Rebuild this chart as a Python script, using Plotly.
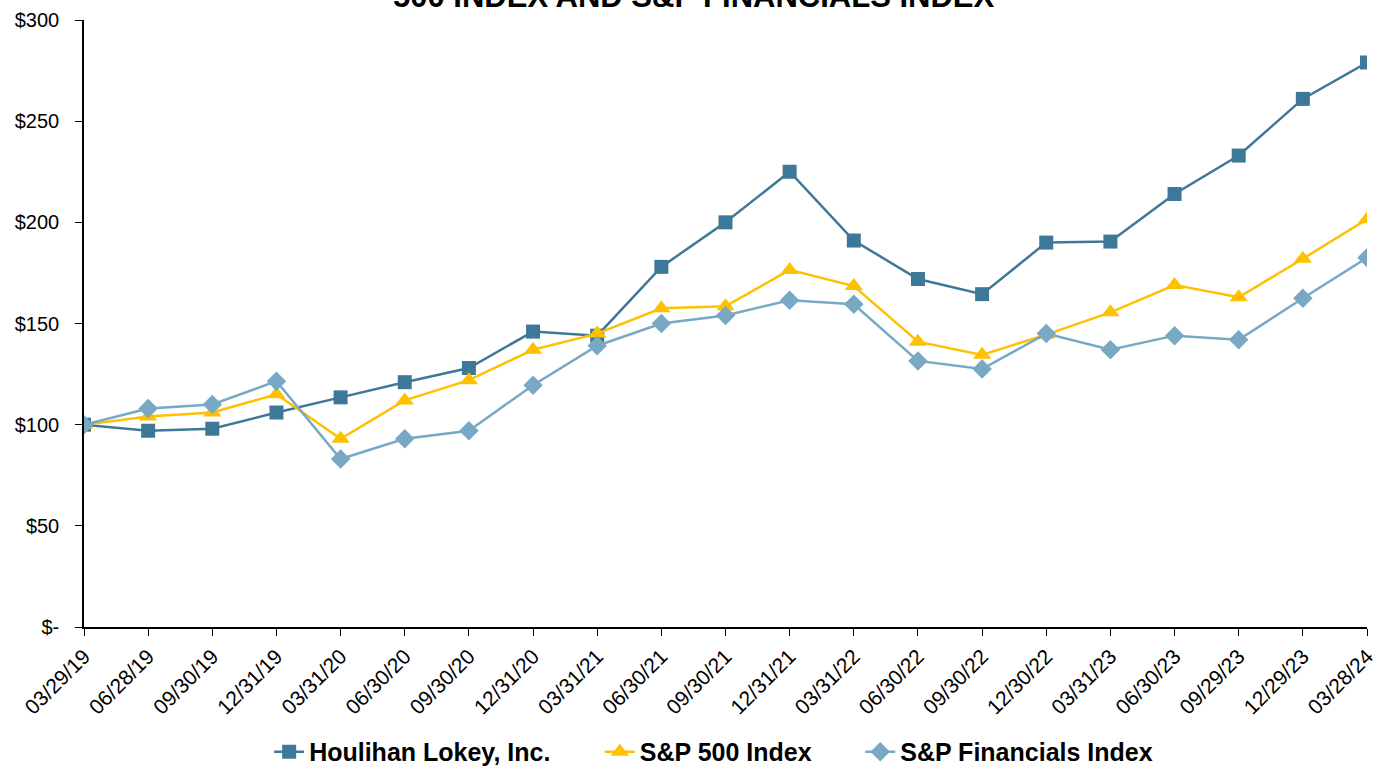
import plotly.graph_objects as go

dates = ["03/29/19", "06/28/19", "09/30/19", "12/31/19", "03/31/20", "06/30/20", "09/30/20",
         "12/31/20", "03/31/21", "06/30/21", "09/30/21", "12/31/21", "03/31/22", "06/30/22",
         "09/30/22", "12/30/22", "03/31/23", "06/30/23", "09/29/23", "12/29/23", "03/28/24"]

houlihan = [100, 97, 98, 106, 113.5, 121, 128, 146, 144, 178, 200, 225, 191, 172,
            164.5, 190, 190.5, 214, 233, 261, 279]
sp500 = [100, 104, 106, 115, 93, 112, 122, 137, 145, 157.5, 158.5, 176.5, 168.5, 141,
         134.5, 144.5, 155.5, 169, 163, 182, 201.5]
financials = [100, 108, 110, 121.5, 83, 93, 97, 119.5, 139, 150, 154, 161.5, 159.5, 131.5,
              127.5, 145, 137, 144, 142, 162.5, 182.5]

y_tickvals = [0, 50, 100, 150, 200, 250, 300]
y_ticktext = ["$-", "$50", "$100", "$150", "$200", "$250", "$300"]

title_text = "500 INDEX AND S&P FINANCIALS INDEX"

C_HL = "#3E7899"
C_SP = "#FFC000"
C_FIN = "#78A8C4"
FONT = "Liberation Sans, Arial, sans-serif"

fig = go.Figure()
fig.add_trace(go.Scatter(x=dates, y=houlihan, name="Houlihan Lokey, Inc.", mode="lines+markers",
                         line=dict(color=C_HL, width=2.5), legend="legend",
                         marker=dict(symbol="square", size=14, color=C_HL)))
fig.add_trace(go.Scatter(x=dates, y=sp500, name="S&P 500 Index", mode="lines+markers",
                         line=dict(color=C_SP, width=2.5), legend="legend2",
                         marker=dict(symbol="triangle-up", size=16, color=C_SP)))
fig.add_trace(go.Scatter(x=dates, y=financials, name="S&P Financials Index", mode="lines+markers",
                         line=dict(color=C_FIN, width=2.5), legend="legend3",
                         marker=dict(symbol="diamond", size=15, color=C_FIN)))

leg_common = dict(orientation="h", yref="container", y=0.0196, yanchor="middle",
                  xref="container", xanchor="left",
                  font=dict(size=25, family=FONT, weight="bold", color="black"),
                  itemwidth=30, bgcolor="rgba(0,0,0,0)")

fig.update_layout(
    width=1375, height=767,
    margin=dict(l=84, r=8, t=20, b=140),
    paper_bgcolor="white", plot_bgcolor="white",
    font=dict(family=FONT, color="black", size=20),
    showlegend=True,
    legend=dict(x=(84 + 0.1443 * 1283) / 1375, **leg_common),
    legend2=dict(x=(84 + 0.402 * 1283) / 1375, **leg_common),
    legend3=dict(x=(84 + 0.605 * 1283) / 1375, **leg_common),
    annotations=[dict(text="<b>" + title_text + "</b>", xref="paper", yref="paper",
                      x=0.475, y=1.0066, xanchor="center", yanchor="bottom", showarrow=False,
                      font=dict(size=31, family=FONT, color="black"))],
)
fig.update_xaxes(type="category", showline=True, linecolor="black", linewidth=1.5,
                 ticks="outside", ticklen=7, tickcolor="black", tickangle=-45,
                 showgrid=False, zeroline=False, range=[0, 20], automargin=False,
                 tickfont=dict(size=21))
fig.update_yaxes(range=[0, 300], tickvals=y_tickvals, ticktext=y_ticktext,
                 showline=True, linecolor="black", linewidth=1.5,
                 ticks="outside", ticklen=7, tickcolor="black", ticklabelstandoff=12,
                 showgrid=False, zeroline=False, automargin=False, tickfont=dict(size=20))

fig.write_html("out.html", config={"displayModeBar": False},
               post_script="document.body.style.margin='0';document.body.style.overflow='hidden';")
